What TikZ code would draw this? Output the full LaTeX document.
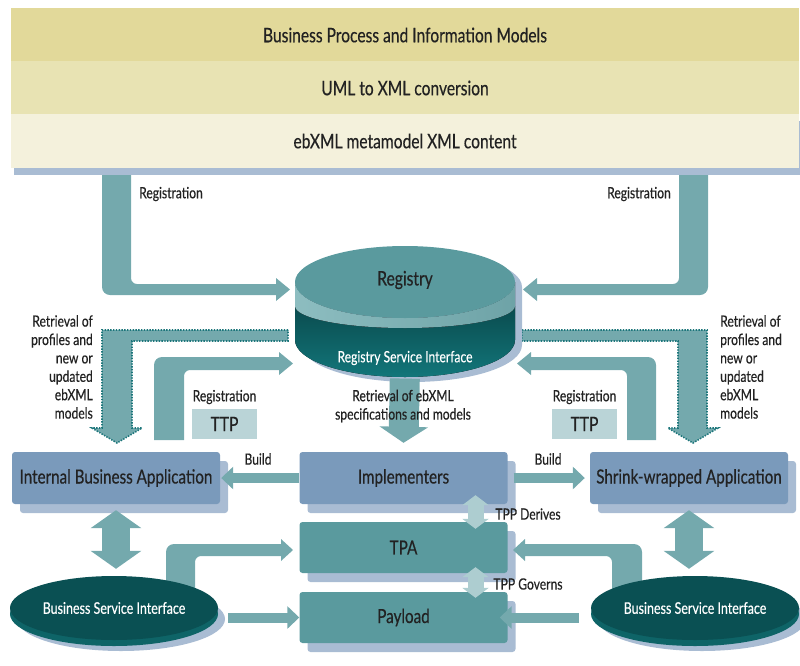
\documentclass[tikz,border=0pt]{standalone}
\usepackage{fontspec}
\setmainfont{Lato}[FakeStretch=0.78, FakeBold=0.4]
\usetikzlibrary{arrows.meta, shapes.geometric, positioning, calc}

\definecolor{stripA}{HTML}{E2D99A}
\definecolor{stripB}{HTML}{E8E3B3}
\definecolor{stripC}{HTML}{F4F1DC}
\definecolor{shadowblue}{HTML}{A9BCD3}
\definecolor{arrowteal}{HTML}{74A9AD}
\definecolor{dotteal}{HTML}{1D767B}
\definecolor{steel}{HTML}{7A9ABB}
\definecolor{tealbox}{HTML}{5A9A9E}
\definecolor{ttpfill}{HTML}{BAD4D7}
\definecolor{tppfill}{HTML}{ADCDD0}
\definecolor{bsidark}{HTML}{0A5053}
\definecolor{bsiside}{HTML}{0E6467}
\definecolor{regtop}{HTML}{5A9A9E}
\definecolor{regsideL}{HTML}{8DBDC0}
\definecolor{regsideR}{HTML}{6EA3A7}
\definecolor{regdark}{HTML}{0A4B4E}
\definecolor{regmid}{HTML}{12767A}
\definecolor{ink}{HTML}{222222}

\newcommand{\boxfont}{\fontsize{19.5}{22}\selectfont}
\newcommand{\bandfont}{\fontsize{20}{23}\selectfont}
\newcommand{\lblfont}{\fontsize{15.5}{18.4}\selectfont}
\newcommand{\ttpfont}{\fontsize{20}{23}\selectfont}
\newcommand{\smallfont}{\fontsize{15.5}{18}\selectfont}
\newcommand{\bsifont}{\fontsize{16}{19}\selectfont}
\newcommand{\regfont}{\fontsize{20}{23}\selectfont}

\tikzset{
  strip/.style={rectangle, minimum width=788pt, minimum height=54pt, inner sep=0pt, text=ink, font=\bandfont},
  appbox/.style={rectangle, rounded corners=3pt, minimum width=208pt, minimum height=52pt, inner sep=0pt,
    fill=steel, text=ink, font=\boxfont, preaction={fill=shadowblue, transform canvas={shift={(8pt,-9pt)}}}},
  tpabox/.style={appbox, fill=tealbox},
  ttpbox/.style={rectangle, minimum width=65pt, minimum height=30pt, inner sep=0pt, fill=ttpfill, text=ink, font=\ttpfont},
  bsi/.style={ellipse, minimum width=208pt, minimum height=64pt, inner sep=0pt, fill=bsidark, text=white, font=\bsifont,
    preaction={fill=shadowblue, transform canvas={shift={(7pt,-11pt)}}},
    preaction={fill=bsiside, transform canvas={shift={(0pt,-6pt)}}}},
  lbl/.style={text=ink, font=\lblfont, inner sep=0pt},
  larrow/.style={fill=arrowteal},
  dotarrow/.style={fill=arrowteal, draw=dotteal, line width=1.6pt, dash pattern=on 1.4pt off 1.4pt},
  fatarrow/.style={draw=arrowteal, line width=10pt, -{Triangle[width=22pt,length=12pt]}},
  dblarrow/.style={draw=arrowteal, line width=28pt, {Triangle[width=50pt,length=18pt]}-{Triangle[width=50pt,length=18pt]}},
  tpparrow/.style={draw=tppfill, line width=16pt, {Triangle[width=26pt,length=10pt]}-{Triangle[width=26pt,length=10pt]}},
  downarrow/.style={draw=arrowteal, line width=30pt, -{Triangle[width=48pt,length=16pt]}},
}

\begin{document}
\begin{tikzpicture}[x=1pt, y=-1pt]
\useasboundingbox (0,0) rectangle (800,665);

% Registration from the models down into the registry
\fill[larrow] (102,170) [rounded corners=8pt] -- (102,295) [sharp corners] -- (276,295) -- (276,301) -- (290,289.5) -- (276,278) -- (276,284) [rounded corners=6pt] -- (131,284) [sharp corners] -- (131,170) -- cycle;
\fill[larrow] (708,170) [rounded corners=8pt] -- (708,295) [sharp corners] -- (537,295) -- (537,301) -- (523,289.5) -- (537,278) -- (537,284) [rounded corners=6pt] -- (679,284) [sharp corners] -- (679,170) -- cycle;

% Retrieval of profiles (dotted)
\filldraw[dotarrow] (288,330) -- (102,330) -- (102,428) -- (92,428) -- (117,443) -- (142,428) -- (132,428) -- (132,341) -- (288,341) -- cycle;
\filldraw[dotarrow] (522,330) -- (707,330) -- (707,428) -- (718,428) -- (693,443) -- (668,428) -- (678,428) -- (678,341) -- (522,341) -- cycle;

% Registration from the TTPs
\fill[larrow] (154,440) [rounded corners=8pt] -- (154,357) [sharp corners] -- (279,357) -- (279,352) -- (293,363.5) -- (279,375) -- (279,370) [rounded corners=6pt] -- (184,370) [sharp corners] -- (184,440) -- cycle;
\fill[larrow] (656,440) [rounded corners=8pt] -- (656,357) [sharp corners] -- (531,357) -- (531,352) -- (517,363.5) -- (531,375) -- (531,370) [rounded corners=6pt] -- (627,370) [sharp corners] -- (627,440) -- cycle;

% Model layers
\node[strip, fill=stripA] (bpim) at (405,35) {Business Process and Information Models};
\node[strip, fill=stripB] (uml) at (405,88) {UML to XML conversion};
\node[strip, fill=stripC, preaction={fill=shadowblue, transform canvas={shift={(3pt,-7pt)}}}] (ebxml) at (405,141) {ebXML metamodel XML content};

% Registry drum
\coordinate (reg) at (405,282);
\begin{scope}[shift={(reg)}]
  \fill[shadowblue] (-103,5) -- (-103,63) arc[start angle=180, end angle=0, x radius=110, y radius=37] -- (117,5) arc[start angle=0, end angle=-180, x radius=110, y radius=36] -- cycle;
  \fill[top color=regdark, bottom color=regmid] (-110,24) -- (-110,58) arc[start angle=180, end angle=0, x radius=110, y radius=37] -- (110,24) arc[start angle=0, end angle=180, x radius=110, y radius=22] -- cycle;
  \fill[left color=regsideL, right color=regsideR] (-110,0) -- (-110,24) arc[start angle=180, end angle=0, x radius=110, y radius=22] -- (110,0) arc[start angle=0, end angle=180, x radius=110, y radius=36] -- cycle;
  \fill[regtop] (0,0) ellipse[x radius=110, y radius=36];
\end{scope}
\node[font=\regfont, text=ink] (registry) at (405,280) {Registry};
\node[font=\smallfont, text=white] (rsi) at (405,358) {Registry Service Interface};

% Trading partners
\node[ttpbox] (ttpL) at (224.5,424) {TTP};
\node[ttpbox] (ttpR) at (584.5,424) {TTP};

% Applications
\node[appbox] (iba) at (116,478) {Internal Business Application};
\node[appbox] (impl) at (403.5,478) {Implementers};
\node[appbox, minimum width=198pt] (shr) at (689,478) {Shrink-wrapped Application};
\node[tpabox, minimum height=51pt] (tpa) at (403.5,547.5) {TPA};
\node[tpabox, minimum height=51pt] (pay) at (403.5,617.5) {Payload};

% Business service interfaces into the TPA
\fill[larrow] (166,590) [rounded corners=8pt] -- (166,544) [sharp corners] -- (281,544) -- (281,539) -- (293,550) -- (281,561) -- (281,556) [rounded corners=6pt] -- (195,556) [sharp corners] -- (195,590) -- cycle;
\fill[larrow] (642,590) [rounded corners=8pt] -- (642,544) [sharp corners] -- (525,544) -- (525,539) -- (513,550) -- (525,561) -- (525,556) [rounded corners=6pt] -- (612,556) [sharp corners] -- (612,590) -- cycle;

\node[bsi] (bsiL) at (114,608) {Business Service Interface};
\node[bsi] (bsiR) at (695,608) {Business Service Interface};

% Connections
\draw[fatarrow, shorten >=1pt] (impl.west) -- (iba.east);
\draw[fatarrow, shorten <=6pt, shorten >=5pt] (impl.east) -- (shr.west);
\draw[fatarrow, shorten <=10pt] (bsiL.east |- pay.west) -- (pay.west);
\draw[fatarrow, shorten <=12pt, shorten >=-8pt] (bsiR.west |- pay.east) -- (pay.east);
\draw[dblarrow, shorten <=6pt, shorten >=7pt] (iba.south) -- (iba.south |- bsiL.north);
\draw[dblarrow, shorten <=6pt, shorten >=7pt] (shr.south) -- (shr.south |- bsiR.north);
\draw[tpparrow] ([xshift=72pt,yshift=9pt]impl.south) -- ([xshift=72pt,yshift=-7pt]tpa.north);
\draw[tpparrow] ([xshift=72pt,yshift=6pt]tpa.south) -- ([xshift=72pt,yshift=-6pt]pay.north);
\draw[downarrow, shorten <=10pt] (rsi.south) -- ([yshift=9pt]impl.north);

% Labels
\node[lbl, anchor=west] (regTL) at (139,194) {Registration};
\node[lbl, anchor=east] (regTR) at (671,194) {Registration};
\node[lbl] (regL) at (224.5,397) {Registration};
\node[lbl] (regR) at (584.5,397) {Registration};
\node[lbl, align=right, anchor=north east] (retrL) at (93,315) {Retrieval of\\profiles and\\new or\\updated\\ebXML\\models};
\node[lbl, align=left, anchor=north west] (retrR) at (720,315) {Retrieval of\\profiles and\\new or\\updated\\ebXML\\models};
\node[lbl, align=center] (retrC) at (403,406) {Retrieval of ebXML\\specifications and models};
\node[lbl] (buildL) at (258,459) {Build};
\node[lbl] (buildR) at (548,459) {Build};
\node[lbl] (derives) at (528,514) {TPP Derives};
\node[lbl] (governs) at (528,584) {TPP Governs};
\end{tikzpicture}
\end{document}
